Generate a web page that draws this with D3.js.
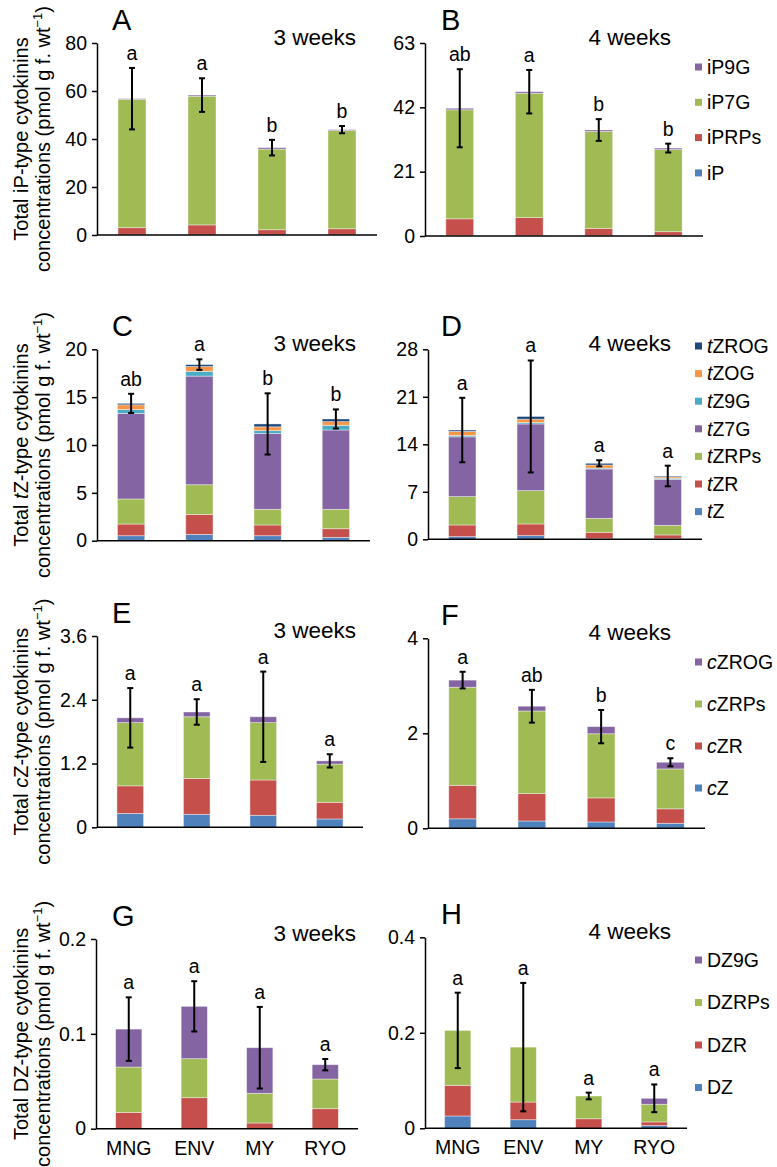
<!DOCTYPE html>
<html><head><meta charset="utf-8">
<script src="https://cdn.jsdelivr.net/npm/d3@7"></script>
<style>body{margin:0;background:#fff} svg text{font-family:"Liberation Sans",Arial,sans-serif;fill:#000}</style>
</head><body><svg id="c" width="777" height="1167"></svg>
<script>
const genotypes = ["MNG","ENV","MY","RYO"];

// Colours (Excel-like palette)
const cBlue="#4F81BD", cRed="#C44F4B", cGreen="#A0BB53", cPurple="#8464A2", cCyan="#4BACC6", cOrange="#F79646", cNavy="#1F497D";

// ---- Panel A : iP-type, 3 weeks ----
const A_iP    = [0.1,0.1,0.1,0.1];
const A_iPRPs = [2.95,4.1,2.1,2.5];
const A_iP7G  = [53.45,53.6,33.6,40.9];
const A_iP9G  = [0.3,0.5,0.6,0.4];
const A_sd    = [12.8,7.0,3.25,1.5];
const A_letters = ["a","a","b","b"];
const A_ticks = [0,20,40,60,80];
const A_tickLabels = ["0","20","40","60","80"];

// ---- Panel B : iP-type, 4 weeks ----
const B_iP    = [0.1,0.1,0.1,0.1];
const B_iPRPs = [5.5,5.9,2.4,1.3];
const B_iP7G  = [35.6,40.6,31.6,26.8];
const B_iP9G  = [0.5,0.5,0.5,0.5];
const B_sd    = [12.75,7.1,3.55,1.45];
const B_letters = ["ab","a","b","b"];
const B_ticks = [0,21,42,63];
const B_tickLabels = ["0","21","42","63"];

// ---- Panel C : tZ-type, 3 weeks ----
const C_tZ    = [0.52,0.66,0.52,0.35];
const C_tZR   = [1.22,2.09,1.12,0.90];
const C_tZRPs = [2.62,3.10,1.64,2.03];
const C_tZ7G  = [8.94,11.35,7.92,8.29];
const C_tZ9G  = [0.40,0.50,0.30,0.49];
const C_tZOG  = [0.50,0.50,0.40,0.38];
const C_tZROG = [0.15,0.20,0.30,0.28];
const C_sd    = [1.0,0.55,3.2,1.0];
const C_letters = ["ab","a","b","b"];
const C_ticks = [0,5,10,15,20];
const C_tickLabels = ["0","5","10","15","20"];

// ---- Panel D : tZ-type, 4 weeks ----
const D_tZ    = [0.39,0.54,0.10,0.10];
const D_tZR   = [1.72,1.72,0.93,0.54];
const D_tZRPs = [4.18,4.91,2.06,1.42];
const D_tZ7G  = [8.81,9.83,7.27,6.78];
const D_tZ9G  = [0.20,0.20,0.14,0.16];
const D_tZOG  = [0.60,0.50,0.45,0.20];
const D_tZROG = [0.20,0.40,0.25,0.13];
const D_sd    = [4.75,8.25,0.45,1.52];
const D_letters = ["a","a","a","a"];
const D_ticks = [0,7,14,21,28];
const D_tickLabels = ["0","7","14","21","28"];

// ---- Panel E : cZ-type, 3 weeks ----
const E_cZ    = [0.26,0.245,0.226,0.157];
const E_cZR   = [0.52,0.675,0.664,0.313];
const E_cZRPs = [1.19,1.16,1.08,0.72];
const E_cZROG = [0.09,0.09,0.11,0.06];
const E_sd    = [0.56,0.24,0.85,0.125];
const E_letters = ["a","a","a","a"];
const E_ticks = [0,1.2,2.4,3.6];
const E_tickLabels = ["0","1.2","2.4","3.6"];

// ---- Panel F : cZ-type, 4 weeks ----
const F_cZ    = [0.20,0.154,0.133,0.105];
const F_cZR   = [0.705,0.576,0.507,0.305];
const F_cZRPs = [2.065,1.74,1.35,0.84];
const F_cZROG = [0.15,0.10,0.15,0.14];
const F_sd    = [0.175,0.345,0.35,0.085];
const F_letters = ["a","ab","b","c"];
const F_ticks = [0,2,4];
const F_tickLabels = ["0","2","4"];

// ---- Panel G : DZ-type, 3 weeks ----
const G_DZ    = [0,0,0,0];
const G_DZR   = [0.0172,0.0327,0.006,0.0211];
const G_DZRPs = [0.0478,0.0411,0.0313,0.0313];
const G_DZ9G  = [0.040,0.0552,0.0481,0.0151];
const G_sd    = [0.0335,0.0265,0.043,0.006];
const G_letters = ["a","a","a","a"];
const G_ticks = [0,0.1,0.2];
const G_tickLabels = ["0","0.1","0.2"];

// ---- Panel H : DZ-type, 4 weeks ----
const H_DZ    = [0.0258,0.018,0,0.0056];
const H_DZR   = [0.0642,0.037,0.02,0.0077];
const H_DZRPs = [0.115,0.115,0.0477,0.037];
const H_DZ9G  = [0,0,0,0.0125];
const H_sd    = [0.079,0.1345,0.007,0.029];
const H_letters = ["a","a","a","a"];
const H_ticks = [0,0.2,0.4];
const H_tickLabels = ["0","0.2","0.4"];

const ipKeys = ["iP","iPRPs","iP7G","iP9G"];
const ipColors = [cBlue,cRed,cGreen,cPurple];
const tzKeys = ["tZ","tZR","tZRPs","tZ7G","tZ9G","tZOG","tZROG"];
const tzColors = [cBlue,cRed,cGreen,cPurple,cCyan,cOrange,cNavy];
const czKeys = ["cZ","cZR","cZRPs","cZROG"];
const czColors = [cBlue,cRed,cGreen,cPurple];
const dzKeys = ["DZ","DZR","DZRPs","DZ9G"];
const dzColors = [cBlue,cRed,cGreen,cPurple];

const svg = d3.select("#c");
const FS = 19.5;

const panels = [
 {id:"A", week:"3 weeks", keys:ipKeys, colors:ipColors, vals:[A_iP,A_iPRPs,A_iP7G,A_iP9G], sd:A_sd, letters:A_letters, ticks:A_ticks, tl:A_tickLabels, max:80,
  left:97,right:377,top:43,bottom:235, side:"L", title:["iP"]},
 {id:"B", week:"4 weeks", keys:ipKeys, colors:ipColors, vals:[B_iP,B_iPRPs,B_iP7G,B_iP9G], sd:B_sd, letters:B_letters, ticks:B_ticks, tl:B_tickLabels, max:63,
  left:425,right:703,top:43,bottom:236, side:"R", legend:{y0:67, step:35.3}},
 {id:"C", week:"3 weeks", keys:tzKeys, colors:tzColors, vals:[C_tZ,C_tZR,C_tZRPs,C_tZ7G,C_tZ9G,C_tZOG,C_tZROG], sd:C_sd, letters:C_letters, ticks:C_ticks, tl:C_tickLabels, max:20,
  left:97,right:370,top:349.3,bottom:540.7, side:"L", title:["tZ"]},
 {id:"D", week:"4 weeks", keys:tzKeys, colors:tzColors, vals:[D_tZ,D_tZR,D_tZRPs,D_tZ7G,D_tZ9G,D_tZOG,D_tZROG], sd:D_sd, letters:D_letters, ticks:D_ticks, tl:D_tickLabels, max:28,
  left:428,right:702,top:349.3,bottom:539.3, side:"R", legend:{y0:346, step:27.6}},
 {id:"E", week:"3 weeks", keys:czKeys, colors:czColors, vals:[E_cZ,E_cZR,E_cZRPs,E_cZROG], sd:E_sd, letters:E_letters, ticks:E_ticks, tl:E_tickLabels, max:3.6,
  left:97,right:363,top:636,bottom:827.3, side:"L", title:["cZ"]},
 {id:"F", week:"4 weeks", keys:czKeys, colors:czColors, vals:[F_cZ,F_cZR,F_cZRPs,F_cZROG], sd:F_sd, letters:F_letters, ticks:F_ticks, tl:F_tickLabels, max:4,
  left:428,right:705,top:638.3,bottom:828.3, side:"R", legend:{y0:662, step:42}},
 {id:"G", week:"3 weeks", keys:dzKeys, colors:dzColors, vals:[G_DZ,G_DZR,G_DZRPs,G_DZ9G], sd:G_sd, letters:G_letters, ticks:G_ticks, tl:G_tickLabels, max:0.2,
  left:96,right:358,top:939,bottom:1128.7, side:"L", title:["DZ"], xlabels:true},
 {id:"H", week:"4 weeks", keys:dzKeys, colors:dzColors, vals:[H_DZ,H_DZR,H_DZRPs,H_DZ9G], sd:H_sd, letters:H_letters, ticks:H_ticks, tl:H_tickLabels, max:0.4,
  left:425,right:687,top:937.3,bottom:1128.3, side:"R", legend:{y0:960, step:42.5}, xlabels:true}
];

function addLabel(sel, label){
  const m = label.match(/^([tc])(Z.*)$/);
  if(m){ sel.append("tspan").attr("font-style","italic").text(m[1]); sel.append("tspan").text(m[2]); }
  else sel.append("tspan").text(label);
}

panels.forEach(p=>{
  const g = svg.append("g");
  const x = d3.scaleBand().domain(genotypes).range([p.left,p.right]).paddingInner(0.6).paddingOuter(0.3);
  const y = d3.scaleLinear().domain([0,p.max]).range([p.bottom,p.top]);
  const rows = genotypes.map((gn,i)=>{const o={g:gn}; p.keys.forEach((k,j)=>o[k]=p.vals[j][i]); return o;});
  const stacked = d3.stack().keys(p.keys)(rows);
  g.selectAll("g.layer").data(stacked).join("g").attr("class","layer")
    .attr("fill",(d,i)=>p.colors[i])
    .selectAll("rect").data(d=>d.filter(s=>s[1]-s[0]>0)).join("rect")
    .attr("x",d=>x(d.data.g)).attr("width",x.bandwidth())
    .attr("y",d=>y(d[1])).attr("height",d=>y(d[0])-y(d[1]))
    .attr("stroke","rgba(255,255,255,0.5)").attr("stroke-width",0.8);

  // axes
  const ya = g.append("g").attr("transform",`translate(${p.left},0)`)
    .call(d3.axisLeft(y).tickValues(p.ticks).tickFormat((d,i)=>p.tl[i]).tickSize(5).tickSizeOuter(0).tickPadding(5));
  ya.selectAll("text").attr("font-size",FS).attr("font-family",null);
  ya.selectAll("line").attr("stroke","#000").attr("stroke-width",1.5);
  ya.select(".domain").attr("stroke","#000").attr("stroke-width",1.5);

  const xa = g.append("g").attr("transform",`translate(0,${p.bottom})`)
    .call(d3.axisBottom(x).tickSize(0).tickSizeOuter(0).tickPadding(12).tickFormat(p.xlabels? (d=>d) : ""));
  xa.select(".domain").attr("stroke","#000").attr("stroke-width",1.5).attr("d",`M${p.left},0H${p.right}`);
  xa.selectAll("text").attr("font-size",FS).attr("font-family",null);

  // error bars
  const totals = rows.map(r=>d3.sum(p.keys,k=>r[k]));
  const eb = g.append("g").attr("stroke","#000").attr("stroke-width",2);
  genotypes.forEach((gn,i)=>{
    const cx = x(gn)+x.bandwidth()/2;
    const hi = y(totals[i]+p.sd[i]), lo = y(totals[i]-p.sd[i]);
    eb.append("line").attr("x1",cx).attr("x2",cx).attr("y1",hi).attr("y2",lo);
    eb.append("line").attr("x1",cx-3).attr("x2",cx+3).attr("y1",hi).attr("y2",hi);
    eb.append("line").attr("x1",cx-3).attr("x2",cx+3).attr("y1",lo).attr("y2",lo);
    g.append("text").attr("x",cx).attr("y",hi-8).attr("text-anchor","middle").attr("font-size",FS).text(p.letters[i]);
  });

  // panel letter & week label
  const letterX = p.side==="L" ? 112 : 441;
  g.append("text").attr("x",letterX).attr("y",p.top-13).attr("font-size",29).text(p.id);
  g.append("text").attr("x",p.side==="L"?356:671).attr("y",p.top+2).attr("text-anchor","end").attr("font-size",22.5).text(p.week);

  // y title
  if(p.title){
    const cy = (p.top+p.bottom)/2;
    const t1 = g.append("text").attr("transform",`translate(28,${cy}) rotate(-90)`).attr("text-anchor","middle").attr("font-size",20);
    t1.append("tspan").text("Total ");
    if(p.title[0]==="tZ"||p.title[0]==="cZ"){ t1.append("tspan").attr("font-style","italic").text(p.title[0][0]); t1.append("tspan").text("Z-type cytokinins"); }
    else t1.append("tspan").text(p.title[0]+"-type cytokinins");
    const t2 = g.append("text").attr("transform",`translate(50,${cy}) rotate(-90)`).attr("text-anchor","middle").attr("font-size",20);
    t2.append("tspan").text("concentrations (pmol g f. wt");
    t2.append("tspan").attr("font-size",13).attr("dy",-8).text("\u22121");
    t2.append("tspan").attr("dy",8).text(")");
  }

  // legend
  if(p.legend){
    const lg = g.append("g");
    const order = p.keys.map((k,i)=>({k,c:p.colors[i]})).reverse();
    order.forEach((o,i)=>{
      const ry = p.legend.y0 + i*p.legend.step;
      lg.append("rect").attr("x",695).attr("y",ry-3.5).attr("width",7).attr("height",7).attr("fill",o.c);
      const t = lg.append("text").attr("x",707).attr("y",ry).attr("dy","0.35em").attr("font-size",19.5);
      addLabel(t,o.k);
    });
  }
});
</script></body></html>
